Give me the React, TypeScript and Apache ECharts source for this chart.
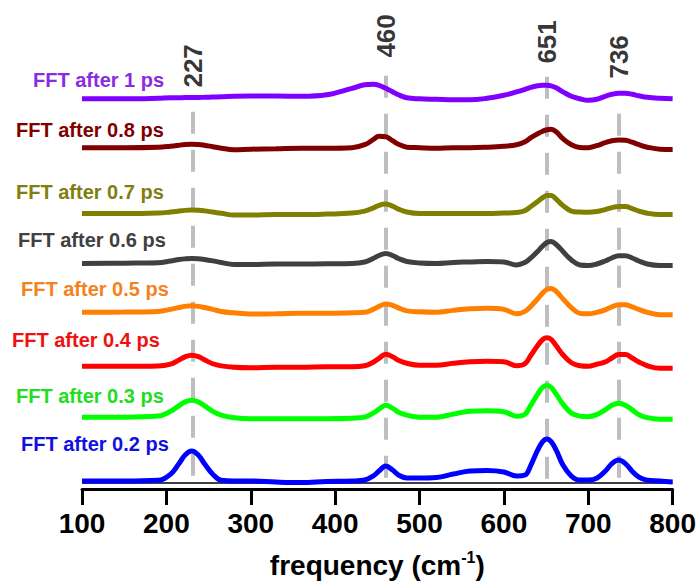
import React, { useEffect, useRef } from "react";
import * as echarts from "echarts";

// frequency grid (cm^-1)
const freq = [100,150,190,205,215,222,230,238,245,255,265,280,300,330,360,390,420,435,445,452,460,468,475,485,500,520,540,560,580,600,615,625,632,640,646,651,656,662,670,680,690,700,710,720,728,736,744,752,760,770,785,800];

const seriesNames = ["FFT after 0.2 ps","FFT after 0.3 ps","FFT after 0.4 ps","FFT after 0.5 ps","FFT after 0.6 ps","FFT after 0.7 ps","FFT after 0.8 ps","FFT after 1 ps"];

// vertical offset of each trace (stacked display)
const offsets = [8, 72, 123, 177, 226, 276, 342, 391];

const amp02 = [0,0,0.7,6.8,17.5,25.8,30,25.8,17.5,6.8,0.7,0,0,-1,-1.5,-0.5,0,1,5,10,15,11,6,3,3,3.5,7,10,10.5,9,5,6,16,31,39.5,42,39.5,31,16,5,1,1,2.8,9.8,17.4,21,17.4,9.8,3.8,0.7,0,-1];
const amp03 = [0,0,1.1,5.8,11.5,15.2,17,15.2,11.5,5.8,2,-0.5,-1.5,-1.5,-1.5,-1.5,-1,0,4,8,12,9,5,2,0,0,3,6,6.5,5.5,1,3,12,23,30,32,30,23,13,4,1,0.5,2.5,7.3,12,14,12,7.3,2.5,-0.5,-2,-2];
const amp04 = [0,0,0.3,2.2,6.2,9.4,11,9.6,6.5,2.5,0.4,-1,-1.5,-1,-1,-0.5,-0.5,0.5,4,8,12,9.5,6,3,1,1,3,4.5,5,4.5,0.5,2.5,11,20.8,26.8,28.5,27,20.5,11.5,3.5,0.5,0,2,4.3,8.3,11.8,11.8,8.3,4.3,0.5,-2,-2];
const amp05 = [0,0.3,0.9,3,4.9,6,6.5,6,4.9,3,0.9,-0.5,-1.7,-1.5,-1,-1,-0.5,0,3,6,8.5,7,4.5,1.5,0.5,0,2,3.5,4,3,-1.5,1,6.2,13.5,19.5,23,24,21,13.5,4.8,-1,-1.5,0,2.5,5.5,7.7,7.7,5.5,2.9,0,-2.4,-2.4];
const amp06 = [0,0.3,0.7,2.5,3.9,4.6,5,4.8,4,2.6,1,-1,-1,-0.5,-0.5,-0.3,0,1.5,5,8,10,8,5,2,0.5,0,1,1.5,2,1.5,-1.5,1,5.5,12,17.5,21,22,19,12,3.5,-1.5,-2,-0.5,2.5,5.5,7.7,7.7,5.5,2.5,-0.5,-2,-2];
const amp07 = [0,0,0.5,1.5,2.5,3.2,3.5,3.3,2.7,1.5,0.3,-1.5,-1.5,-1,-1,-0.5,0.5,2.5,5.5,8.3,9.5,7.5,4.5,1.5,0,0,0,0,0,0.5,1,3,7,12,16,18,18,14.5,8,2.5,1.5,1.2,2,4,6,7,7,5,2.5,0.3,-1,-1];
const amp08 = [0,0,0.5,1.5,2.5,3.3,3.5,3.3,2.5,1,-0.5,-2,-1.5,-1,-0.5,-0.5,0,3,8,11.5,11,7,3.5,0.5,0,-0.5,0,0,0.5,1.5,3,6,10,14,16.5,18,18.5,16,9,3,0.3,0,2,5,7,7.8,7.5,5.5,3,0.5,-1.5,-1.7];
const amp10 = [0,0,0.5,1,1,1.2,1.2,1.3,1.5,1.8,2,2.5,2.7,2.7,2.5,4,10.5,14,14.5,13.5,10.5,7,4,1,0,-0.5,-1,-1,0.5,3.5,7,9.5,11.5,13,13.5,13.5,13,11,7,2.5,0,-1.5,-0.5,2.5,4.5,5.5,5.5,4.5,3,1.5,0.5,0];

const amplitudes = [amp02, amp03, amp04, amp05, amp06, amp07, amp08, amp10];

// peak markers
const peakPositions = [231, 460, 651, 736];
const peakLabels = ["227", "460", "651", "736"];
const peakLineTops = [378, 414, 413, 376];
const peakLabelY = [424, 454, 448, 433];
const zeroLineY = 6;

// styles / layout
const lineColors = ["#0000FF", "#00FF00", "#FF0000", "#FF8000", "#404040", "#808000", "#800000", "#8000FF"];
const labelColors = ["#1010E0", "#22DD22", "#EE1111", "#F58220", "#404040", "#7F7F10", "#800000", "#8A2BE2"];
const labelPos = [[21, 444], [16, 396], [12, 340], [21, 289], [18, 240], [16, 192], [16, 130], [33, 80]];

const FONT = '"Liberation Sans", Arial, Helvetica, sans-serif';

export default function App() {
  const ref = useRef<HTMLDivElement>(null);
  useEffect(() => {
    if (!ref.current) return;
    const chart = echarts.init(ref.current, undefined, { renderer: "svg" });

    const curveSeries = amplitudes.map((amp, s) => ({
      name: seriesNames[s],
      type: "line",
      data: freq.map((f, i) => [f, amp[i] + offsets[s]]),
      smooth: 0.4,
      showSymbol: false,
      symbol: "none",
      z: 5,
      lineStyle: { color: lineColors[s], width: 5 },
      itemStyle: { color: lineColors[s] },
      silent: true,
    }));

    const helper = {
      type: "line",
      data: [],
      z: 1,
      silent: true,
      markLine: {
        symbol: ["none", "none"],
        silent: true,
        animation: false,
        label: { show: false },
        data: [
          ...peakPositions.map((p, k) => [
            { coord: [p, peakLineTops[k]], lineStyle: { color: "#BEBEBE", width: 4, type: [22, 16] } },
            { coord: [p, zeroLineY] },
          ]),
          { yAxis: zeroLineY, lineStyle: { color: "#000000", width: 1.5, type: "solid" } },
        ],
      },
    };

    const peakText = {
      type: "scatter",
      data: peakPositions.map((p, k) => [p, peakLabelY[k]]),
      symbolSize: 2,
      itemStyle: { color: "rgba(0,0,0,0)" },
      silent: true,
      z: 6,
      label: {
        show: true,
        position: "inside",
        rotate: 90,
        formatter: (p: any) => peakLabels[p.dataIndex],
        fontSize: 26,
        fontWeight: "bold",
        fontFamily: FONT,
        color: "#000",
      },
    };

    chart.setOption({
      animation: false,
      grid: { left: 82, right: 26, top: 0, bottom: 94 },
      xAxis: {
        type: "value",
        min: 100,
        max: 800,
        interval: 100,
        splitLine: { show: false },
        axisLine: { lineStyle: { color: "#000", width: 3 } },
        axisTick: { length: 16, lineStyle: { color: "#000", width: 3 } },
        axisLabel: { margin: 20, fontSize: 28, fontWeight: "bold", fontFamily: FONT, color: "#000" },
        name: "{a|frequency (cm}{b|-1}{a|)}",
        nameLocation: "middle",
        nameGap: 60,
        nameTextStyle: {
          rich: {
            a: { fontSize: 28, fontWeight: "bold", fontFamily: FONT, color: "#000", lineHeight: 32 },
            b: { fontSize: 16, fontWeight: "bold", fontFamily: FONT, color: "#000", lineHeight: 32, verticalAlign: "top" },
          },
        },
      },
      yAxis: { type: "value", min: 0, max: 490, show: false },
      series: [helper, ...curveSeries, peakText],
      graphic: seriesNames.map((n, s) => ({
        type: "text",
        x: labelPos[s][0],
        y: labelPos[s][1],
        silent: true,
        style: {
          text: n,
          fill: labelColors[s],
          fontSize: 20,
          fontWeight: "bold",
          fontFamily: FONT,
          align: "left",
          verticalAlign: "middle",
        },
      })),
    });
    return () => chart.dispose();
  }, []);
  return (
    <div
      ref={ref}
      style={{ position: "absolute", left: 0, top: 0, width: 699, height: 584 }}
    />
  );
}
